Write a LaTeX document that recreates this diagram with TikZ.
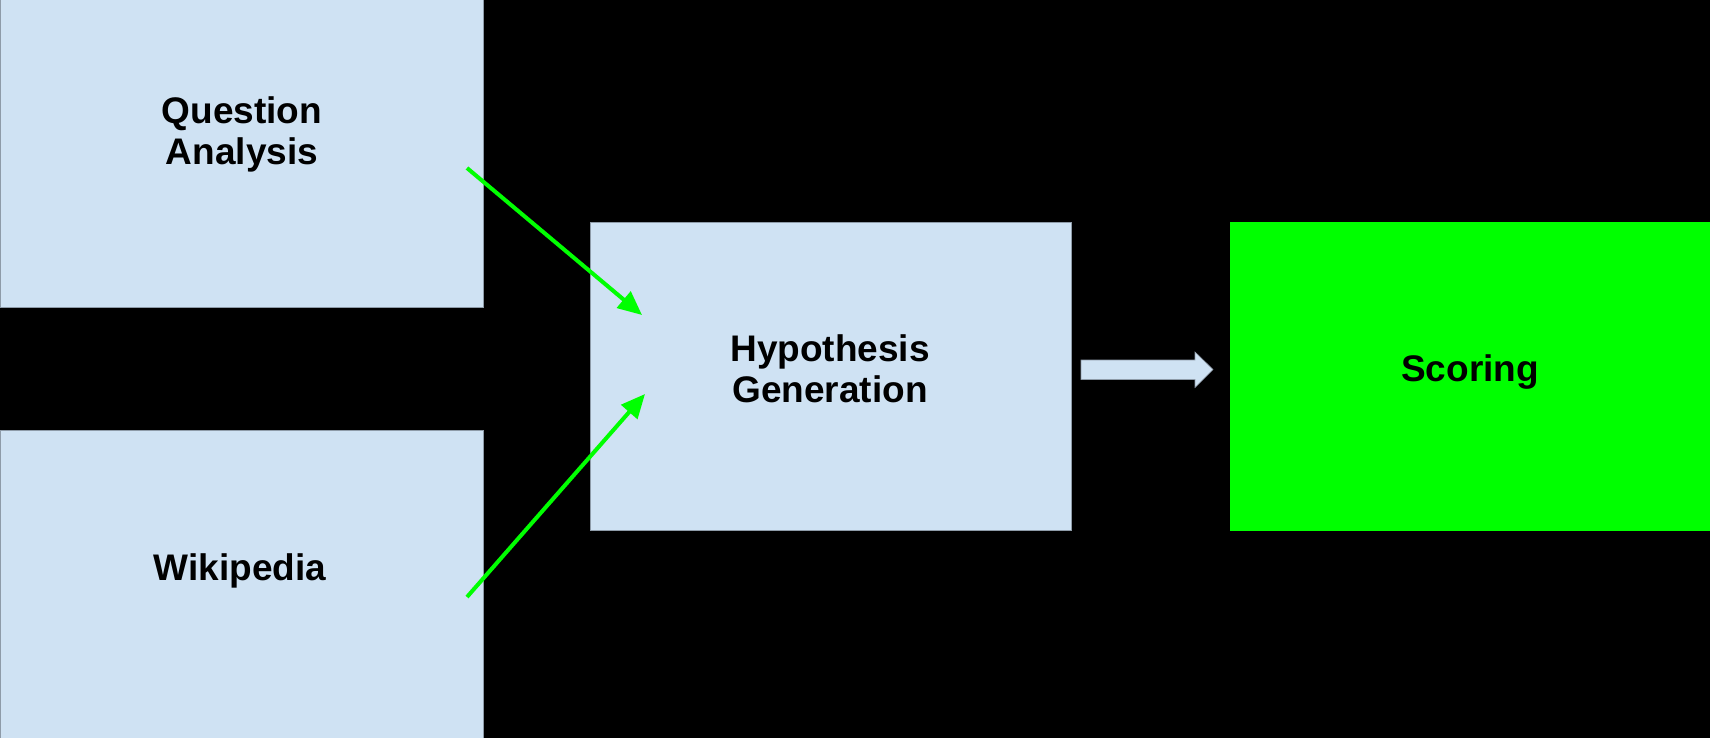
\documentclass[tikz,border=0pt]{standalone}
\usepackage{fontspec}
\setmainfont{Liberation Sans}
\usetikzlibrary{arrows.meta, positioning}

\definecolor{paleblue}{HTML}{CFE2F3}
\definecolor{edgegrey}{HTML}{8E9BA8}
\definecolor{brightgreen}{HTML}{00FF00}

\tikzset{
  panel/.style={rectangle, draw=edgegrey, line width=1pt, fill=paleblue, anchor=north west, inner sep=0pt},
  caption/.style={font=\fontsize{37}{41}\selectfont\bfseries, align=center, text=black, inner sep=0pt},
  feed/.style={draw=brightgreen, line width=4pt, -{Triangle[length=24pt, width=21pt]}},
}

\begin{document}
\begin{tikzpicture}[x=1pt, y=-1pt]

\useasboundingbox (0,0) rectangle (1710,738);
\fill[black] (0,0) rectangle (1710,738);

% boxes
\node (question) [panel, minimum width=483pt, minimum height=308pt] at (0,-1) {};
\node (wiki) [panel, minimum width=483pt, minimum height=312pt] at (0,430) {};
\node (hypo) [panel, minimum width=481pt, minimum height=308pt] at (590,222) {};
\node (scoring) [panel, fill=brightgreen, draw=brightgreen, minimum width=490pt, minimum height=308pt] at (1230,222) {};

% texts
\node (questiontext) [caption] at (242,134) {Question\\Analysis};
\node (wikitext) [caption] at (240,571) {Wikipedia};
\node (hypotext) [caption] at (830,369) {Hypothesis\\Generation};
\node (scoringtext) [caption] at (1470,372) {Scoring};

% green feeds
\coordinate (qstart) at (467,168);
\coordinate (qend) at (642,315);
\coordinate (wstart) at (467,597);
\coordinate (wend) at (645,394);
\draw[feed] (qstart) -- (qend);
\draw[feed] (wstart) -- (wend);

% block arrow
\coordinate (blk) at (1081,369.5);
\filldraw[fill=paleblue, draw=edgegrey, line width=0.6pt]
  (blk) ++(0,-9.5) -- ++(114,0) -- ++(0,-8) -- (1213,369.5)
  -- (1195,387.5) -- ++(0,-8) -- ++(-114,0) -- cycle;

\end{tikzpicture}
\end{document}
